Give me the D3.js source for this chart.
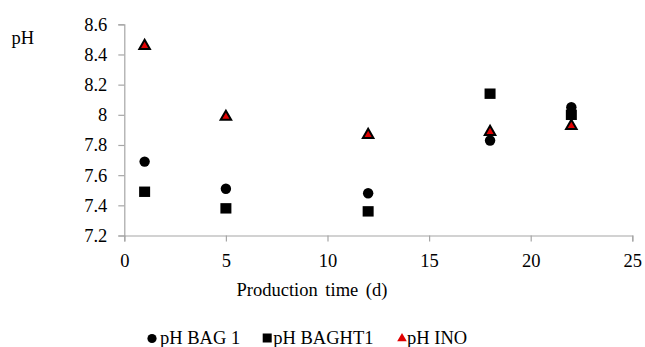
<!DOCTYPE html>
<html>
<head>
<meta charset="utf-8">
<script src="https://cdn.jsdelivr.net/npm/d3@7"></script>
<style>
  html, body { margin: 0; padding: 0; background: #fff; }
  svg { display: block; font-family: "Liberation Serif", "Times New Roman", serif; }
  svg text { font-family: "Liberation Serif", "Times New Roman", serif !important; }
</style>
</head>
<body>
<svg id="chart" width="645" height="347"></svg>
<script>
// ---- data ----
const days = [1, 5, 12, 18, 22];
const bag1 = [7.69, 7.51, 7.48, 7.83, 8.05];
const baght1 = [7.49, 7.38, 7.36, 8.14, 8.0];
const ino = [8.46, 7.99, 7.87, 7.89, 7.93];
const seriesNames = ["pH BAG 1", "pH BAGHT1", "pH INO"];
const xTicks = [0, 5, 10, 15, 20, 25];
const yTicks = [7.2, 7.4, 7.6, 7.8, 8.0, 8.2, 8.4, 8.6];

const svg = d3.select("#chart");
const fontSize = 18.5;
const axisColor = "#a6a6a6";
const serif = "Liberation Serif, Times New Roman, serif";

const x = d3.scaleLinear().domain([0, 25]).range([124.3, 632.3]);
const y = d3.scaleLinear().domain([7.2, 8.6]).range([235.5, 24.3]);

// axes
const xAxis = svg.append("g").attr("transform", `translate(0,${y(7.2)})`)
  .call(d3.axisBottom(x).tickValues(xTicks).tickSize(6).tickPadding(12).tickFormat(d3.format("d")));
const yAxis = svg.append("g").attr("transform", `translate(${x(0)},0)`)
  .call(d3.axisLeft(y).tickValues(yTicks).tickSize(6).tickPadding(11).tickFormat(d => d3.format("~g")(+d.toFixed(1))));

[xAxis, yAxis].forEach(g => {
  g.attr("font-family", serif).attr("font-size", fontSize);
  g.selectAll(".domain").attr("stroke", axisColor).attr("stroke-width", 1.2);
  g.selectAll(".tick line").attr("stroke", axisColor).attr("stroke-width", 1.2);
  g.selectAll(".tick text").attr("fill", "#000");
});
xAxis.selectAll(".tick text").attr("dy", "0.71em");

// axis titles
svg.append("text").attr("x", 11.5).attr("y", 43.5).text("pH")
  .attr("font-family", serif).attr("font-size", fontSize);
svg.append("text").attr("x", 312).attr("y", 296).attr("text-anchor", "middle")
  .attr("font-family", serif).attr("font-size", fontSize).style("word-spacing", "3px")
  .text("Production time (d)");

// markers
const triPath = d3.symbol().type(d3.symbolTriangle).size(48)();

const g = svg.append("g");
g.selectAll("circle.bag1").data(days.map((d, i) => [d, bag1[i]])).join("circle")
  .attr("cx", d => x(d[0])).attr("cy", d => y(d[1])).attr("r", 5.2).attr("fill", "#000");
g.selectAll("rect.baght1").data(days.map((d, i) => [d, baght1[i]])).join("rect")
  .attr("x", d => x(d[0]) - 5.5).attr("y", d => y(d[1]) - 5.2).attr("width", 11).attr("height", 10.4)
  .attr("fill", "#000");
g.selectAll("path.ino").data(days.map((d, i) => [d, ino[i]])).join("path")
  .attr("d", triPath).attr("transform", d => `translate(${x(d[0])},${y(d[1]) + 0.5})`)
  .attr("fill", "#e00000").attr("stroke", "#000").attr("stroke-width", 2).attr("stroke-linejoin", "miter");

// legend
const legY = 344;
const leg = svg.append("g").attr("font-family", serif).attr("font-size", fontSize);
const legX = [160, 273.3, 407];
leg.append("circle").attr("cx", 152).attr("cy", legY - 5.5).attr("r", 4.6).attr("fill", "#000");
leg.append("rect").attr("x", 262.7).attr("y", legY - 10.5).attr("width", 9).attr("height", 9).attr("fill", "#000");
leg.append("path").attr("d", d3.symbol().type(d3.symbolTriangle).size(40)())
  .attr("transform", `translate(402,${legY - 5.5})`).attr("fill", "#e00000").attr("stroke", "none");
seriesNames.forEach((n, i) => {
  leg.append("text").attr("x", legX[i]).attr("y", legY).text(n);
});
</script>
</body>
</html>
